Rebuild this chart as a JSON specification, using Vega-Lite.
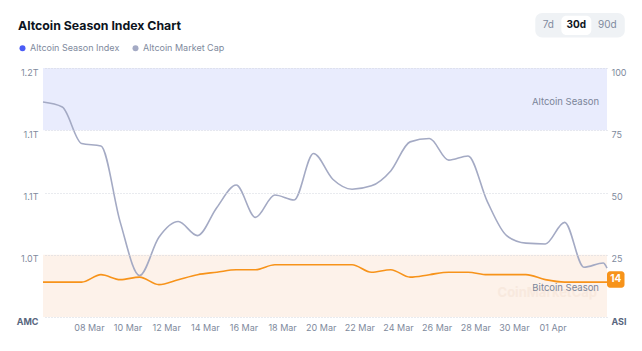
{
  "$schema": "https://vega.github.io/schema/vega-lite/v6.json",
  "width": 564,
  "height": 249,
  "autosize": {"type": "none"},
  "padding": {"left": 43, "top": 68, "right": 35, "bottom": 34},
  "background": "#ffffff",
  "config": {
    "view": {"stroke": null},
    "font": "Inter",
    "axis": {"labelFont": "Inter", "titleFont": "Inter"},
    "legend": {"labelFont": "Inter"}
  },
  "title": {
    "text": "Altcoin Season Index Chart",
    "anchor": "start",
    "frame": "group",
    "font": "Inter",
    "fontSize": 12.3,
    "fontWeight": 700,
    "color": "#0d1421",
    "baseline": "bottom",
    "dx": -25,
    "offset": -32
  },
  "data": {
    "values": [
      {"date": "2025-03-05T15:00:00Z", "asi": 14, "amc": 1.159},
      {"date": "2025-03-06T15:00:00Z", "asi": 14, "amc": 1.153},
      {"date": "2025-03-07T15:00:00Z", "asi": 14, "amc": 1.109},
      {"date": "2025-03-08T15:00:00Z", "asi": 17, "amc": 1.106},
      {"date": "2025-03-09T15:00:00Z", "asi": 15, "amc": 1.014},
      {"date": "2025-03-10T15:00:00Z", "asi": 16, "amc": 0.950},
      {"date": "2025-03-11T15:00:00Z", "asi": 13, "amc": 0.996},
      {"date": "2025-03-12T15:00:00Z", "asi": 15, "amc": 1.015},
      {"date": "2025-03-13T15:00:00Z", "asi": 17, "amc": 0.998},
      {"date": "2025-03-14T15:00:00Z", "asi": 18, "amc": 1.032},
      {"date": "2025-03-15T15:00:00Z", "asi": 19, "amc": 1.059},
      {"date": "2025-03-16T15:00:00Z", "asi": 19, "amc": 1.020},
      {"date": "2025-03-17T15:00:00Z", "asi": 21, "amc": 1.047},
      {"date": "2025-03-18T15:00:00Z", "asi": 21, "amc": 1.041},
      {"date": "2025-03-19T15:00:00Z", "asi": 21, "amc": 1.097},
      {"date": "2025-03-20T15:00:00Z", "asi": 21, "amc": 1.066},
      {"date": "2025-03-21T15:00:00Z", "asi": 21, "amc": 1.054},
      {"date": "2025-03-22T15:00:00Z", "asi": 18, "amc": 1.058},
      {"date": "2025-03-23T15:00:00Z", "asi": 19, "amc": 1.076},
      {"date": "2025-03-24T15:00:00Z", "asi": 16, "amc": 1.111},
      {"date": "2025-03-25T15:00:00Z", "asi": 17, "amc": 1.115},
      {"date": "2025-03-26T15:00:00Z", "asi": 18, "amc": 1.089},
      {"date": "2025-03-27T15:00:00Z", "asi": 18, "amc": 1.094},
      {"date": "2025-03-28T15:00:00Z", "asi": 17, "amc": 1.039},
      {"date": "2025-03-29T15:00:00Z", "asi": 17, "amc": 0.998},
      {"date": "2025-03-30T15:00:00Z", "asi": 17, "amc": 0.989},
      {"date": "2025-03-31T15:00:00Z", "asi": 15, "amc": 0.988},
      {"date": "2025-04-01T15:00:00Z", "asi": 14, "amc": 1.014},
      {"date": "2025-04-02T15:00:00Z", "asi": 14, "amc": 0.960},
      {"date": "2025-04-03T15:00:00Z", "asi": 14, "amc": 0.965},
      {"date": "2025-04-03T19:40:00Z", "asi": 14, "amc": 0.959}
    ]
  },
  "layer": [
    {
      "data": {"values": [{}]},
      "mark": {"type": "rect", "color": "#e9ecfd"},
      "encoding": {
        "y": {"datum": 75, "type": "quantitative", "scale": {"domain": [0, 100], "nice": false, "zero": false}, "axis": null},
        "y2": {"datum": 100}
      }
    },
    {
      "data": {"values": [{}]},
      "mark": {"type": "rect", "color": "#fdf2ea"},
      "encoding": {
        "y": {"datum": 0, "type": "quantitative", "scale": {"domain": [0, 100], "nice": false, "zero": false}, "axis": null},
        "y2": {"datum": 25}
      }
    },
    {
      "data": {"values": [{}]},
      "mark": {"type": "text", "text": "Altcoin Season", "align": "right", "baseline": "middle", "dx": -8, "fontSize": 9.5, "color": "#7b8599"},
      "encoding": {
        "x": {"datum": {"year": 2025, "month": "Apr", "date": 3, "hours": 19, "minutes": 40, "utc": true}, "type": "temporal", "scale": {"type": "utc", "domain": [{"year": 2025, "month": "Mar", "date": 5, "hours": 15, "utc": true}, {"year": 2025, "month": "Apr", "date": 3, "hours": 19, "minutes": 40, "utc": true}]}},
        "y": {"datum": 86.5, "type": "quantitative", "scale": {"domain": [0, 100], "nice": false, "zero": false}, "axis": null}
      }
    },
    {
      "data": {"values": [{}]},
      "mark": {"type": "text", "text": "CoinMarketCap", "align": "right", "baseline": "middle", "dx": -10, "fontSize": 13, "fontWeight": 700, "color": "#f8e9de"},
      "encoding": {
        "x": {"datum": {"year": 2025, "month": "Apr", "date": 3, "hours": 19, "minutes": 40, "utc": true}, "type": "temporal", "scale": {"type": "utc", "domain": [{"year": 2025, "month": "Mar", "date": 5, "hours": 15, "utc": true}, {"year": 2025, "month": "Apr", "date": 3, "hours": 19, "minutes": 40, "utc": true}]}},
        "y": {"datum": 9.5, "type": "quantitative", "scale": {"domain": [0, 100], "nice": false, "zero": false}, "axis": null}
      }
    },
    {
      "data": {"values": [{}]},
      "mark": {"type": "text", "text": "Bitcoin Season", "align": "right", "baseline": "middle", "dx": -8, "fontSize": 9.5, "color": "#7b8599"},
      "encoding": {
        "x": {"datum": {"year": 2025, "month": "Apr", "date": 3, "hours": 19, "minutes": 40, "utc": true}, "type": "temporal", "scale": {"type": "utc", "domain": [{"year": 2025, "month": "Mar", "date": 5, "hours": 15, "utc": true}, {"year": 2025, "month": "Apr", "date": 3, "hours": 19, "minutes": 40, "utc": true}]}},
        "y": {"datum": 11.5, "type": "quantitative", "scale": {"domain": [0, 100], "nice": false, "zero": false}, "axis": null}
      }
    },
    {
      "data": {"values": [{}]},
      "mark": {"type": "rect", "color": "#eff2f5", "cornerRadius": 7},
      "encoding": {
        "x": {"datum": {"year": 2025, "month": "Mar", "date": 31, "hours": 2, "minutes": 35, "utc": true}, "type": "temporal", "scale": {"type": "utc", "domain": [{"year": 2025, "month": "Mar", "date": 5, "hours": 15, "utc": true}, {"year": 2025, "month": "Apr", "date": 3, "hours": 19, "minutes": 40, "utc": true}]}},
        "x2": {"datum": {"year": 2025, "month": "Apr", "date": 4, "hours": 17, "minutes": 45, "utc": true}},
        "y": {"datum": 112.2, "type": "quantitative", "scale": {"domain": [0, 100], "nice": false, "zero": false}, "axis": null},
        "y2": {"datum": 122.1}
      }
    },
    {
      "data": {"values": [{}]},
      "mark": {"type": "rect", "color": "#ffffff", "cornerRadius": 5},
      "encoding": {
        "x": {"datum": {"year": 2025, "month": "Apr", "date": 1, "hours": 10, "minutes": 55, "utc": true}, "type": "temporal", "scale": {"type": "utc", "domain": [{"year": 2025, "month": "Mar", "date": 5, "hours": 15, "utc": true}, {"year": 2025, "month": "Apr", "date": 3, "hours": 19, "minutes": 40, "utc": true}]}},
        "x2": {"datum": {"year": 2025, "month": "Apr", "date": 3, "hours": 0, "minutes": 10, "utc": true}},
        "y": {"datum": 113.3, "type": "quantitative", "scale": {"domain": [0, 100], "nice": false, "zero": false}, "axis": null},
        "y2": {"datum": 121.0}
      }
    },
    {
      "data": {"values": [{}]},
      "mark": {"type": "text", "text": "7d", "align": "center", "baseline": "middle", "fontSize": 10, "color": "#808a9d"},
      "encoding": {
        "x": {"datum": {"year": 2025, "month": "Mar", "date": 31, "hours": 18, "minutes": 45, "utc": true}, "type": "temporal", "scale": {"type": "utc", "domain": [{"year": 2025, "month": "Mar", "date": 5, "hours": 15, "utc": true}, {"year": 2025, "month": "Apr", "date": 3, "hours": 19, "minutes": 40, "utc": true}]}},
        "y": {"datum": 117.1, "type": "quantitative", "scale": {"domain": [0, 100], "nice": false, "zero": false}, "axis": null}
      }
    },
    {
      "data": {"values": [{}]},
      "mark": {"type": "text", "text": "30d", "align": "center", "baseline": "middle", "fontSize": 10, "fontWeight": 700, "color": "#0d1421"},
      "encoding": {
        "x": {"datum": {"year": 2025, "month": "Apr", "date": 2, "hours": 5, "minutes": 30, "utc": true}, "type": "temporal", "scale": {"type": "utc", "domain": [{"year": 2025, "month": "Mar", "date": 5, "hours": 15, "utc": true}, {"year": 2025, "month": "Apr", "date": 3, "hours": 19, "minutes": 40, "utc": true}]}},
        "y": {"datum": 117.1, "type": "quantitative", "scale": {"domain": [0, 100], "nice": false, "zero": false}, "axis": null}
      }
    },
    {
      "data": {"values": [{}]},
      "mark": {"type": "text", "text": "90d", "align": "center", "baseline": "middle", "fontSize": 10, "color": "#808a9d"},
      "encoding": {
        "x": {"datum": {"year": 2025, "month": "Apr", "date": 3, "hours": 20, "minutes": 0, "utc": true}, "type": "temporal", "scale": {"type": "utc", "domain": [{"year": 2025, "month": "Mar", "date": 5, "hours": 15, "utc": true}, {"year": 2025, "month": "Apr", "date": 3, "hours": 19, "minutes": 40, "utc": true}]}},
        "y": {"datum": 117.1, "type": "quantitative", "scale": {"domain": [0, 100], "nice": false, "zero": false}, "axis": null}
      }
    },
    {
      "mark": {"type": "line", "interpolate": "monotone", "strokeWidth": 1.6},
      "encoding": {
        "x": {
          "field": "date", "type": "temporal",
          "scale": {"type": "utc", "domain": [{"year": 2025, "month": "Mar", "date": 5, "hours": 15, "utc": true}, {"year": 2025, "month": "Apr", "date": 3, "hours": 19, "minutes": 40, "utc": true}]},
          "axis": {
            "title": null, "grid": false, "domain": false, "ticks": false,
            "labelFontSize": 9, "labelColor": "#808a9d", "labelPadding": 6, "labelOverlap": false,
            "labelExpr": "utcFormat(datum.value, '%d %b')",
            "values": [1741392000000, 1741564800000, 1741737600000, 1741910400000, 1742083200000, 1742256000000, 1742428800000, 1742601600000, 1742774400000, 1742947200000, 1743120000000, 1743292800000, 1743465600000]
          }
        },
        "y": {
          "field": "amc", "type": "quantitative",
          "scale": {"domain": [0.9, 1.2], "nice": false, "zero": false},
          "axis": {
            "orient": "left", "title": null, "values": [0.9, 0.975, 1.05, 1.125, 1.2],
            "labelExpr": "datum.value == 0.9 ? 'AMC' : format(datum.value, '.1f') + 'T'",
            "grid": false, "domain": false, "ticks": false,
            "labelFontSize": 9, "labelPadding": 5, "labelOffset": 4,
            "labelColor": {"condition": {"test": "datum.value == 0.9", "value": "#58667e"}, "value": "#808a9d"},
            "labelFontWeight": {"condition": {"test": "datum.value == 0.9", "value": "bold"}, "value": "normal"}
          }
        },
        "color": {
          "datum": "Altcoin Market Cap",
          "scale": {"domain": ["Altcoin Season Index", "Altcoin Market Cap"], "range": ["#4b5cf6", "#a4aac4"]},
          "legend": {
            "orient": "none", "legendX": -25, "legendY": -24.5, "direction": "horizontal",
            "title": null, "symbolType": "circle", "symbolSize": 36, "padding": 0,
            "labelFontSize": 9, "labelColor": "#808a9d", "columnPadding": 11, "labelOffset": 3,
            "encode": {"symbols": {"update": {"fill": {"scale": "color", "field": "value"}, "strokeWidth": {"value": 0}}}}
          }
        }
      }
    },
    {
      "mark": {"type": "line", "interpolate": "monotone", "strokeWidth": 1.6, "color": "#f7931a"},
      "encoding": {
        "x": {
          "field": "date", "type": "temporal",
          "scale": {"type": "utc", "domain": [{"year": 2025, "month": "Mar", "date": 5, "hours": 15, "utc": true}, {"year": 2025, "month": "Apr", "date": 3, "hours": 19, "minutes": 40, "utc": true}]}
        },
        "y": {
          "field": "asi", "type": "quantitative",
          "scale": {"domain": [0, 100], "nice": false, "zero": false},
          "axis": {
            "orient": "right", "title": null, "values": [0, 25, 50, 75, 100],
            "labelExpr": "datum.value == 0 ? 'ASI' : datum.label",
            "grid": true, "gridColor": "#d3d7df", "gridDash": [1, 2], "gridWidth": 1, "zindex": 1,
            "domain": false, "ticks": false,
            "labelFontSize": 9, "labelPadding": 4, "labelOffset": 4,
            "labelColor": {"condition": {"test": "datum.value == 0", "value": "#58667e"}, "value": "#808a9d"},
            "labelFontWeight": {"condition": {"test": "datum.value == 0", "value": "bold"}, "value": "normal"}
          }
        }
      }
    },
    {
      "transform": [{"filter": "time(datum.date) >= utc(2025, 3, 3, 19, 0)"}],
      "mark": {"type": "rect", "color": "#f7931a", "cornerRadius": 3, "x2Offset": 17.5, "yOffset": -11, "y2Offset": 5.5},
      "encoding": {
        "x": {"field": "date", "type": "temporal", "scale": {"type": "utc", "domain": [{"year": 2025, "month": "Mar", "date": 5, "hours": 15, "utc": true}, {"year": 2025, "month": "Apr", "date": 3, "hours": 19, "minutes": 40, "utc": true}]}},
        "x2": {"field": "date"},
        "y": {"field": "asi", "type": "quantitative", "scale": {"domain": [0, 100], "nice": false, "zero": false}, "axis": null},
        "y2": {"field": "asi"}
      }
    },
    {
      "transform": [{"filter": "time(datum.date) >= utc(2025, 3, 3, 19, 0)"}],
      "mark": {"type": "text", "color": "#ffffff", "fontWeight": 700, "fontSize": 10, "align": "center", "baseline": "middle", "dx": 8.8, "dy": -2.7},
      "encoding": {
        "x": {"field": "date", "type": "temporal", "scale": {"type": "utc", "domain": [{"year": 2025, "month": "Mar", "date": 5, "hours": 15, "utc": true}, {"year": 2025, "month": "Apr", "date": 3, "hours": 19, "minutes": 40, "utc": true}]}},
        "y": {"field": "asi", "type": "quantitative", "scale": {"domain": [0, 100], "nice": false, "zero": false}, "axis": null},
        "text": {"field": "asi", "type": "quantitative"}
      }
    }
  ],
  "resolve": {"scale": {"y": "independent"}}
}
